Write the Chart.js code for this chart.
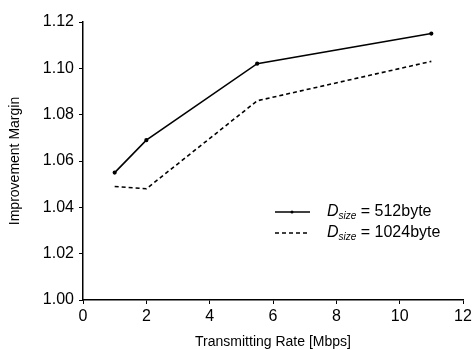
<!DOCTYPE html>
<html lang="en">
  <head>
    <meta charset="UTF-8" />
    <title>Improvement Margin</title>
    <script src="https://cdn.jsdelivr.net/npm/chart.js"></script>
    <style>
      html, body { margin: 0; padding: 0; background: #fff; }
      #wrap { width: 475px; height: 350px; position: relative; }
    </style>
  </head>
  <body>
    <div id="wrap"><canvas id="marginChart"></canvas></div>
    <script>
      // data
      var rates = [1, 2, 5.5, 11];
      var margin512 = [1.055, 1.069, 1.102, 1.115];
      var margin1024 = [1.049, 1.048, 1.086, 1.103];
      var seriesNames = ["512byte", "1024byte"];
      var xTicks = [0, 2, 4, 6, 8, 10, 12];
      var yTicks = [1.0, 1.02, 1.04, 1.06, 1.08, 1.1, 1.12];

      var fontFamily = "'Liberation Sans', Arial, sans-serif";

      function toPoints(xs, ys) {
        return xs.map(function (x, i) { return { x: x, y: ys[i] }; });
      }

      // legend with the subscripted D_size label
      var legendPlugin = {
        id: "dsizeLegend",
        afterDraw: function (chart) {
          var ctx = chart.ctx;
          var rows = [
            { name: seriesNames[0], dash: [], y: 212, marker: true },
            { name: seriesNames[1], dash: [4, 3], y: 233, marker: false },
          ];
          ctx.save();
          rows.forEach(function (r) {
            ctx.strokeStyle = "#000";
            ctx.lineWidth = 1.5;
            ctx.setLineDash(r.dash);
            ctx.beginPath();
            ctx.moveTo(275, r.y);
            ctx.lineTo(310, r.y);
            ctx.stroke();
            ctx.setLineDash([]);
            if (r.marker) {
              ctx.fillStyle = "#000";
              ctx.beginPath();
              ctx.arc(292, r.y, 1.5, 0, Math.PI * 2);
              ctx.fill();
            }
            ctx.fillStyle = "#000";
            ctx.textBaseline = "middle";
            ctx.textAlign = "left";
            var x = 327;
            ctx.font = "italic 16px " + fontFamily;
            ctx.fillText("D", x, r.y);
            x += ctx.measureText("D").width;
            ctx.font = "italic 10px " + fontFamily;
            ctx.fillText("size", x, r.y + 4);
            x += ctx.measureText("size").width;
            ctx.font = "16px " + fontFamily;
            ctx.fillText(" = " + r.name, x, r.y);
          });
          ctx.restore();
        },
      };

      var ctx = document.getElementById("marginChart").getContext("2d");
      var marginChart = new Chart(ctx, {
        type: "line",
        data: {
          datasets: [
            {
              label: seriesNames[0],
              data: toPoints(rates, margin512),
              borderColor: "#000",
              backgroundColor: "#000",
              borderWidth: 1.6,
              pointRadius: 1.3,
              pointStyle: "circle",
              tension: 0,
            },
            {
              label: seriesNames[1],
              data: toPoints(rates, margin1024),
              borderColor: "#000",
              borderWidth: 1.6,
              borderDash: [4, 3],
              pointRadius: 0,
              tension: 0,
            },
          ],
        },
        options: {
          responsive: true,
          maintainAspectRatio: false,
          animation: false,
          layout: { padding: { left: 7, right: 12, top: 22, bottom: 0 } },
          plugins: { legend: { display: false }, tooltip: { enabled: false } },
          scales: {
            x: {
              type: "linear",
              min: 0,
              max: 12,
              afterBuildTicks: function (s) {
                s.ticks = xTicks.map(function (v) { return { value: v }; });
              },
              afterFit: function (s) { s.height = 50; },
              grid: { drawOnChartArea: false, tickLength: 4, color: "#000" },
              border: { color: "#000", width: 1.5 },
              ticks: {
                color: "#000",
                font: { size: 16, family: fontFamily },
                padding: 3,
              },
              title: {
                display: true,
                text: "Transmitting Rate [Mbps]",
                color: "#000",
                font: { size: 14, family: fontFamily },
                padding: { top: 6, bottom: -1 },
              },
            },
            y: {
              min: 1.0,
              max: 1.12,
              afterBuildTicks: function (s) {
                s.ticks = yTicks.map(function (v) { return { value: v }; });
              },
              afterFit: function (s) { s.width = 76; },
              grid: { drawOnChartArea: false, tickLength: 4, color: "#000" },
              border: { color: "#000", width: 1.5 },
              ticks: {
                color: "#000",
                font: { size: 16, family: fontFamily },
                padding: 5,
                callback: function (v) { return v.toFixed(2); },
              },
              title: {
                display: true,
                text: "Improvement Margin",
                color: "#000",
                font: { size: 14, family: fontFamily },
                padding: { top: 0, bottom: 4 },
              },
            },
          },
        },
        plugins: [legendPlugin],
      });
    </script>
  </body>
</html>
